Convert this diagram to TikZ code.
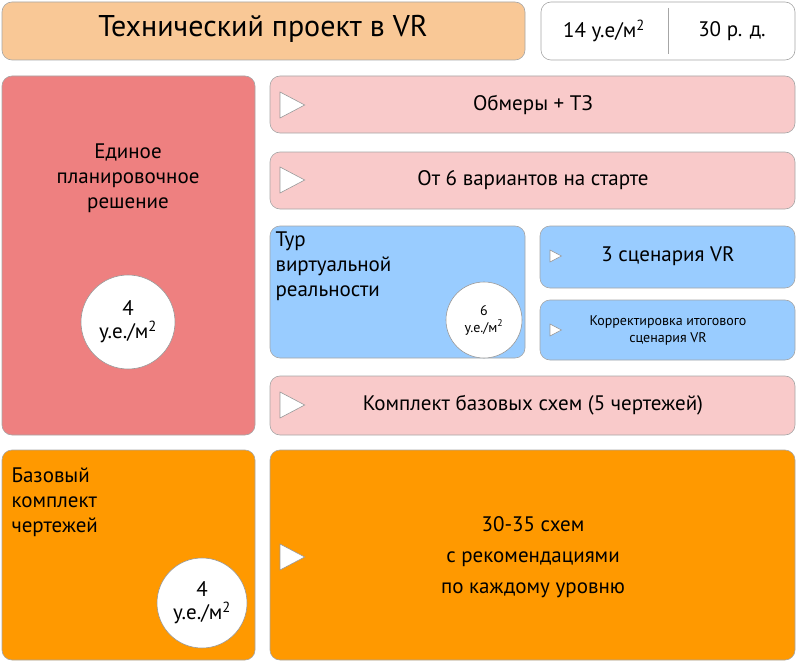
\documentclass[tikz,border=0pt]{standalone}
\usepackage{fontspec}
\setmainfont{PT Sans}
\begin{document}
\begin{tikzpicture}[x=1pt,y=-1pt,
 box/.style={draw=gray!70,rounded corners=10pt,line width=0.6pt},
 circ/.style={circle,draw=gray!80,fill=white,line width=0.6pt,align=center,inner sep=0pt},
 tri/.style={draw=gray!80,fill=white,line width=0.6pt},
 lbl/.style={align=center,font=\fontsize{21}{25}\selectfont}]
\definecolor{tit}{HTML}{F9C896}
\definecolor{red1}{HTML}{EE8080}
\definecolor{pink1}{HTML}{F9CACA}
\definecolor{blue1}{HTML}{99CCFF}
\definecolor{or1}{HTML}{FF9900}
\useasboundingbox (0,0) rectangle (796,661);
\newcommand{\tr}[3]{\draw[tri] (#1,#2-#3) -- (#1+#3*1.9,#2) -- (#1,#2+#3) -- cycle;}
% title
\draw[box,fill=tit] (2,2) rectangle (525,60);
\node[font=\fontsize{30}{34}\selectfont] (title) at (263,29) {Технический проект в VR};
\draw[box,fill=white] (541,2) rectangle (795,60);
\draw[gray!70,line width=0.6pt] (668,8) -- (668,54);
\node[lbl] (p1) at (604,31) {14 у.е/м\textsuperscript{2}};
\node[lbl] (p2) at (732,31) {30 р. д.};
% left red
\draw[box,fill=red1] (2,76) rectangle (255,435);
\node[lbl] (ed) at (128,178) {Единое\\планировочное\\решение};
\node[circ,minimum size=94pt,font=\fontsize{21}{23}\selectfont] (c1) at (128,322) {4\\у.е./м\textsuperscript{2}};
% pink
\draw[box,fill=pink1] (270,76) rectangle (795,133);
\tr{280}{105}{13}
\node[lbl] (o1) at (533,105) {Обмеры + ТЗ};
\draw[box,fill=pink1] (270,152) rectangle (795,209);
\tr{280}{180}{13}
\node[lbl] (o2) at (533,180) {От 6 вариантов на старте};
\draw[box,fill=pink1] (270,376) rectangle (795,435);
\tr{280}{405}{13}
\node[lbl] (o3) at (533,405) {Комплект базовых схем (5 чертежей)};
% blue
\draw[box,fill=blue1] (270,226) rectangle (525,358);
\node[lbl,align=left,anchor=north west] (tur) at (272,228) {Тур\\виртуальной\\реальности};
\node[circ,minimum size=76pt,font=\fontsize{14}{17}\selectfont] (c2) at (484,320) {6\\у.е./м\textsuperscript{2}};
\draw[box,fill=blue1] (540,226) rectangle (795,288);
\tr{550}{256}{6}
\node[lbl] (s1) at (668,256) {3 сценария VR};
\draw[box,fill=blue1] (540,300) rectangle (795,360);
\tr{550}{330}{6}
\node[align=center,font=\fontsize{14}{17}\selectfont] (s2) at (668,330) {Корректировка итогового\\сценария VR};
% orange
\draw[box,fill=or1] (2,450) rectangle (255,660);
\node[lbl,align=left,anchor=north west] (baz) at (8,464) {Базовый\\комплект\\чертежей};
\node[circ,minimum size=90pt,font=\fontsize{21}{23}\selectfont] (c3) at (202,603) {4\\у.е./м\textsuperscript{2}};
\draw[box,fill=or1] (270,450) rectangle (795,660);
\tr{280}{557}{13}
\node[lbl,font=\fontsize{21}{31}\selectfont] (o4) at (533,557) {30-35 схем\\с рекомендациями\\по каждому уровню};
\end{tikzpicture}
\end{document}
